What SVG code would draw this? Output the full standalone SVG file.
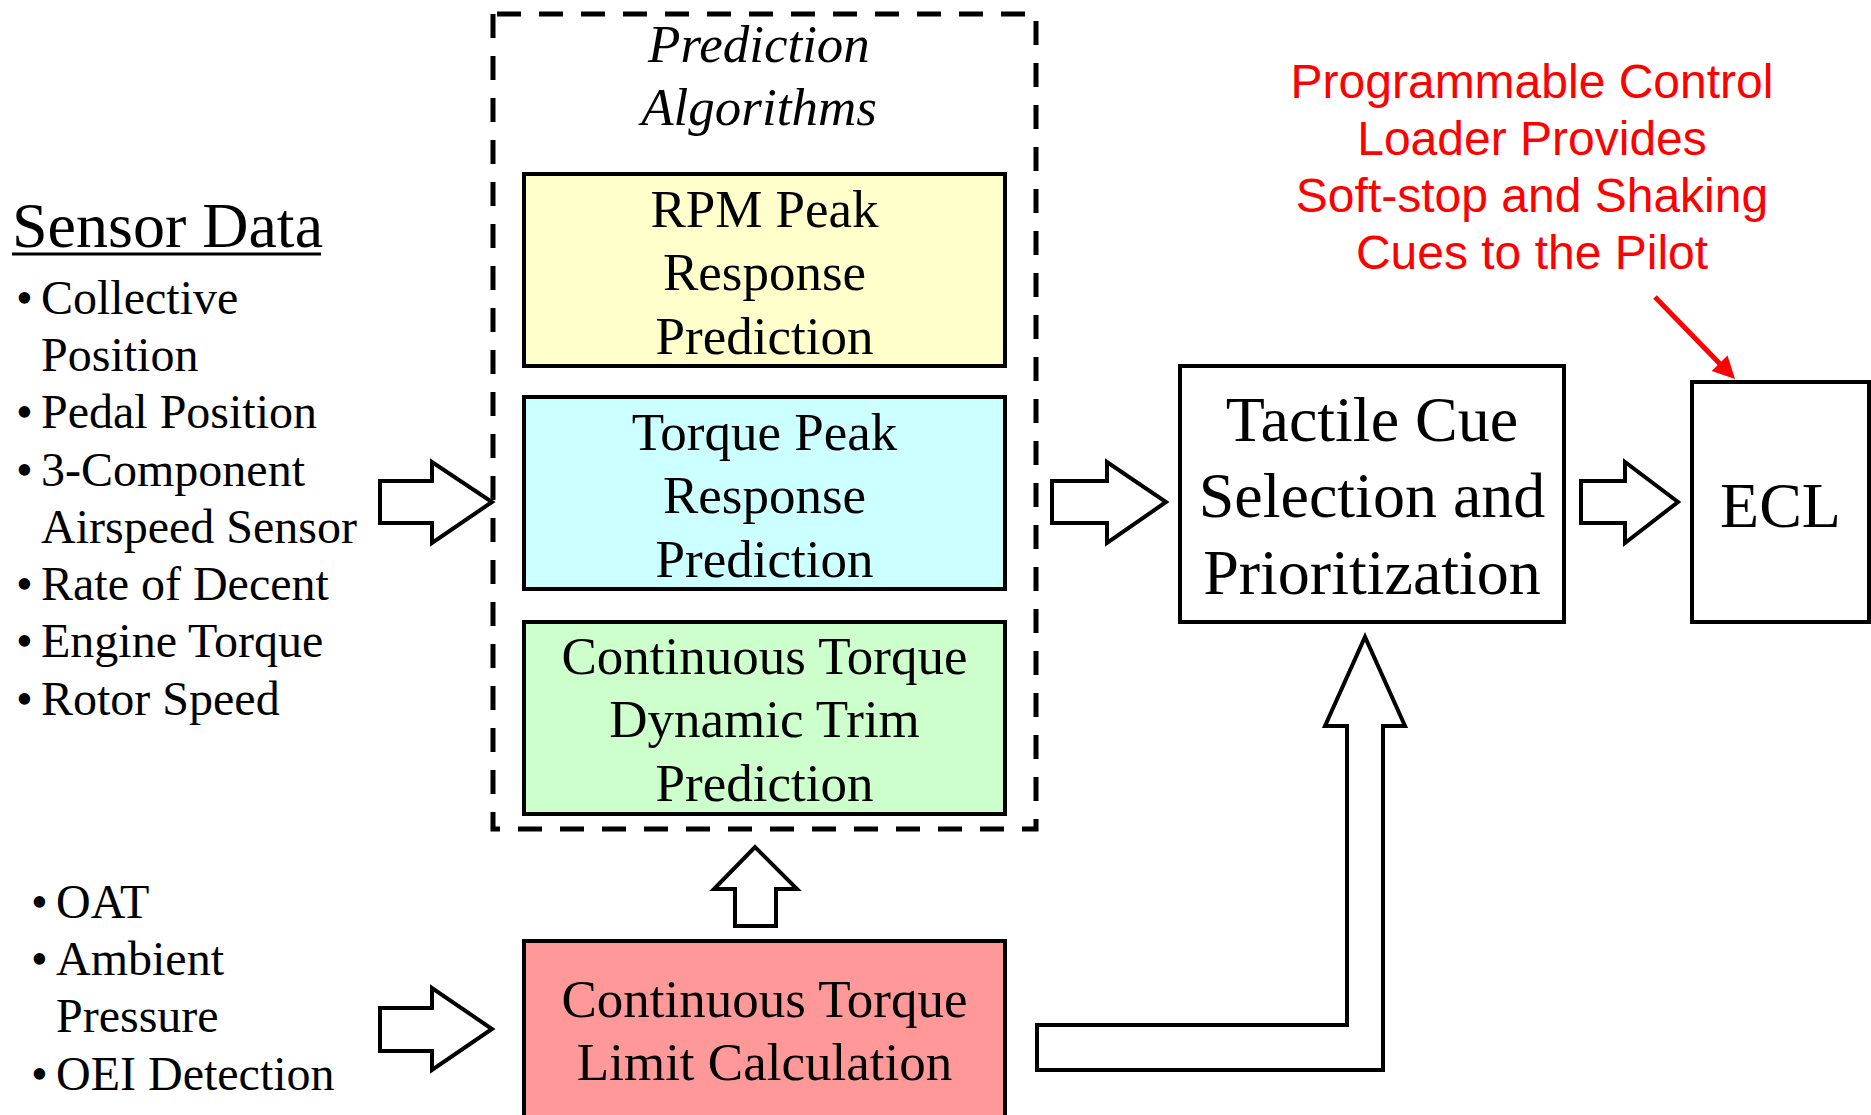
<svg xmlns="http://www.w3.org/2000/svg" width="1871" height="1115" viewBox="0 0 1871 1115">
<style>
.t{font-family:"Liberation Serif","Times New Roman",serif;fill:#000}
.c{text-anchor:middle;font-size:53px}
.big{text-anchor:middle;font-size:64px}
.li{font-size:48px}
.red{font-family:"Liberation Sans",Arial,sans-serif;font-size:48px;fill:#ff0000;text-anchor:middle}
.box{stroke:#000;stroke-width:4}
.blk{fill:#fff;stroke:#000;stroke-width:4;stroke-linejoin:miter}
</style>
<rect width="1871" height="1115" fill="#fff"/>

<g id="prediction-algorithms">
<rect x="493" y="14" width="543" height="815" fill="none" stroke="#000" stroke-width="5" stroke-dasharray="24,18" stroke-dashoffset="-4"/>
<text class="t c" x="759" y="62" font-style="italic">Prediction</text>
<text class="t c" x="759" y="125" font-style="italic">Algorithms</text>
</g>

<g id="rpm-peak">
<rect class="box" x="524" y="174" width="481" height="192" fill="#ffffcc"/>
<text class="t c" x="764.5" y="227">RPM Peak</text>
<text class="t c" x="764.5" y="290">Response</text>
<text class="t c" x="764.5" y="354">Prediction</text>
</g>

<g id="torque-peak">
<rect class="box" x="524" y="397" width="481" height="192" fill="#ccffff"/>
<text class="t c" x="764.5" y="450">Torque Peak</text>
<text class="t c" x="764.5" y="513">Response</text>
<text class="t c" x="764.5" y="577">Prediction</text>
</g>

<g id="dynamic-trim">
<rect class="box" x="524" y="622" width="481" height="192" fill="#ccffcc"/>
<text class="t c" x="764.5" y="674">Continuous Torque</text>
<text class="t c" x="764.5" y="737">Dynamic Trim</text>
<text class="t c" x="764.5" y="801">Prediction</text>
</g>

<g id="limit-calc">
<rect class="box" x="524" y="941" width="481" height="190" fill="#ff9999"/>
<text class="t c" x="764.5" y="1017">Continuous Torque</text>
<text class="t c" x="764.5" y="1080">Limit Calculation</text>
</g>

<g id="tactile-cue">
<rect class="box" x="1180" y="366" width="384" height="256" fill="#fff"/>
<text class="t big" x="1372" y="441">Tactile Cue</text>
<text class="t big" x="1372" y="517">Selection and</text>
<text class="t big" x="1372" y="594">Prioritization</text>
</g>

<g id="ecl">
<rect class="box" x="1692" y="382" width="177" height="240" fill="#fff"/>
<text class="t big" x="1780.5" y="527">ECL</text>
</g>

<g id="sensor-data">
<text class="t" x="12" y="247" font-size="64">Sensor Data</text>
<line x1="12" y1="254" x2="321" y2="254" stroke="#000" stroke-width="3"/>
<g class="t li">
<text x="16" y="314">•</text><text x="41" y="314">Collective</text>
<text x="41" y="371">Position</text>
<text x="16" y="428">•</text><text x="41" y="428">Pedal Position</text>
<text x="16" y="486">•</text><text x="41" y="486">3-Component</text>
<text x="41" y="543">Airspeed Sensor</text>
<text x="16" y="600">•</text><text x="41" y="600">Rate of Decent</text>
<text x="16" y="657">•</text><text x="41" y="657">Engine Torque</text>
<text x="16" y="715">•</text><text x="41" y="715">Rotor Speed</text>
</g>
</g>

<g id="ambient-data" class="t li">
<text x="31" y="918">•</text><text x="56" y="918">OAT</text>
<text x="31" y="975">•</text><text x="56" y="975">Ambient</text>
<text x="56" y="1032">Pressure</text>
<text x="31" y="1090">•</text><text x="56" y="1090">OEI Detection</text>
</g>

<g id="pilot-note">
<text class="red" x="1532" y="98">Programmable Control</text>
<text class="red" x="1532" y="155">Loader Provides</text>
<text class="red" x="1532" y="212">Soft-stop and Shaking</text>
<text class="red" x="1532" y="269">Cues to the Pilot</text>
</g>

<g id="connectors">
<polygon class="blk" points="380,481 432,481 432,462 492,502 432,543 432,523 380,523"/>
<polygon class="blk" points="1052,481 1107,481 1107,462 1166,502 1107,543 1107,523 1052,523"/>
<polygon class="blk" points="1581,481 1625,481 1625,462 1678,502 1625,543 1625,523 1581,523"/>
<polygon class="blk" points="735,926 735,889 714,889 755,847 797,889 776,889 776,926"/>
<polygon class="blk" points="380,1008 432,1008 432,988 492,1029 432,1070 432,1051 380,1051"/>
<polygon class="blk" points="1037,1025 1347,1025 1347,726 1325,726 1365,637 1405,726 1383,726 1383,1070 1037,1070"/>
<line x1="1655" y1="297" x2="1722" y2="366" stroke="#ff0000" stroke-width="5"/>
<polygon points="1735,379 1711.7,370.9 1727.5,355.5" fill="#ff0000"/>
</g>
</svg>
